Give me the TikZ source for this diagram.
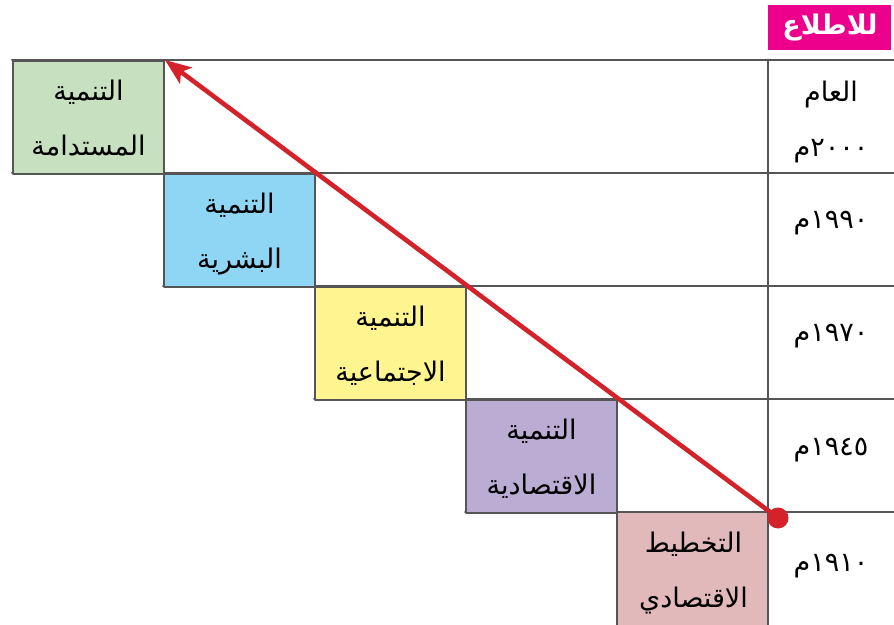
\documentclass[tikz,border=0pt]{standalone}
\usepackage{fontspec}
\usetikzlibrary{arrows.meta}
\TeXXeTstate=1
\newfontfamily\arabicfont[Script=Arabic]{DejaVu Sans}
\newcommand{\artext}[1]{\beginR #1\endR}
\newcommand{\arnum}[1]{\beginR\beginL #1\endL{}م\endR}
\definecolor{gridgray}{HTML}{555555}
\definecolor{cgreen}{HTML}{C6E0C0}
\definecolor{cblue}{HTML}{8ED6F3}
\definecolor{cyellow}{HTML}{FFF590}
\definecolor{cpurple}{HTML}{BBACD4}
\definecolor{cpink}{HTML}{E2B9BA}
\definecolor{cmagenta}{HTML}{EC008C}
\definecolor{cred}{HTML}{D3222A}
\begin{document}
\begin{tikzpicture}[x=0.5pt,y=-0.5pt, line join=round, line cap=round,
  font=\arabicfont\fontsize{13.5}{27.5}\selectfont,
  cell/.style={draw=gridgray, line width=1pt, minimum width=75.5pt, minimum height=56.5pt,
    inner sep=0pt, anchor=north west, align=center, text depth=-3pt},
  year/.style={align=center, text=black},
  grid/.style={draw=gridgray, line width=1pt}]
  \def\xl{12} \def\xr{894} \def\xy{768}
  \useasboundingbox (0,0) rectangle (894,625);
  % table lines
  \draw[grid] (\xl,60)--(\xr,60);
  \draw[grid] (\xl,173)--(\xr,173);
  \draw[grid] (163,286)--(\xr,286);
  \draw[grid] (314,399)--(\xr,399);
  \draw[grid] (465,512)--(\xr,512);
  % header
  \node[fill=cmagenta, minimum width=61.5pt, minimum height=22.5pt, inner sep=0pt, anchor=north west,
    text=white, font=\arabicfont\bfseries\fontsize{13.5}{15}\selectfont] (header) at (768,5) {\artext{للاطلاع}};
  % stages
  \node[cell, fill=cgreen] (sustain) at (12,60) {\artext{التنمية}\\\artext{المستدامة}};
  \node[cell, fill=cblue] (human) at (163,173) {\artext{التنمية}\\\artext{البشرية}};
  \node[cell, fill=cyellow] (social) at (314,286) {\artext{التنمية}\\\artext{الاجتماعية}};
  \node[cell, fill=cpurple] (economic) at (465,399) {\artext{التنمية}\\\artext{الاقتصادية}};
  \node[cell, fill=cpink, draw=none] (planning) at (617,512) {\artext{التخطيط}\\\artext{الاقتصادي}};
  \draw[grid] (planning.north west)--++(0,120);
  \draw[grid] (\xy,60)--(\xy,640);
  % years
  \node[year] (y2000) at (831,122) {\artext{العام}\\\arnum{٢٠٠٠}};
  \node[year] (y1990) at (831,223) {\arnum{١٩٩٠}};
  \node[year] (y1970) at (831,336) {\arnum{١٩٧٠}};
  \node[year] (y1945) at (831,450) {\arnum{١٩٤٥}};
  \node[year] (y1910) at (831,566) {\arnum{١٩١٠}};
  % arrow
  \node[circle, fill=cred, minimum size=10.5pt, inner sep=0pt] (start) at (778,518) {};
  \draw[cred, line width=2.3pt, -{Stealth[length=13pt, width=10pt, inset=3pt]}]
    (planning.north east) -- (sustain.north east);
\end{tikzpicture}
\end{document}
